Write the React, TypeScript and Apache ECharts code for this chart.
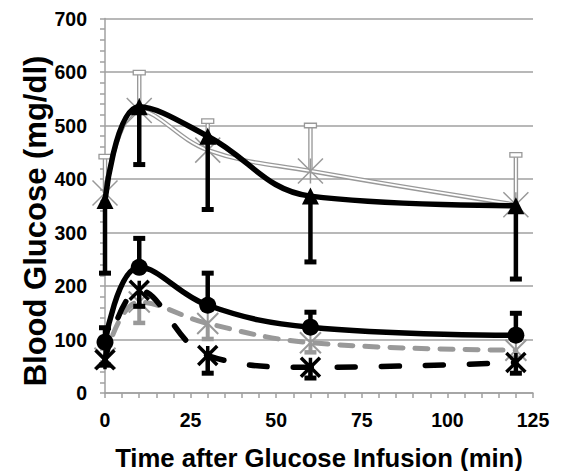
import React, { useEffect, useRef } from "react";
import * as echarts from "echarts";

// ---- data ----
const times = [0, 10, 30, 60, 120];
const xTicks = [0, 25, 50, 75, 100, 125];
const yTicks = [0, 100, 200, 300, 400, 500, 600, 700];

// high group: black triangles (solid) with downward SD, gray asterisks (double line) with upward SD
const triMean = [360, 535, 480, 368, 350];
const triSD = [136, 108, 137, 123, 137];
const grayHighMean = [374, 528, 454, 415, 352];
const grayHighSD = [68, 71, 54, 85, 93];

// low group: black circles (solid) upward SD, gray asterisks (dashed) downward SD, black asterisks (dashed) downward SD
const circMean = [95, 235, 164, 123, 108];
const circSD = [27, 54, 60, 28, 41];
const grayLowMean = [65, 170, 130, 94, 80];
const grayLowSD = [12, 39, 29, 18, 14];
const blackDashMean = [62, 192, 70, 48, 57];
const blackDashSD = [10, 30, 33, 20, 20];

const GRID = "#a0a0a0";
const GRAY = "#999999";
const FONT = "'Liberation Sans', Arial, sans-serif";
const STAR = "path://M0 0L20 20M20 0L0 20M10 0L10 20";

function pairs(means: number[]) {
  return times.map((t, i) => [t, means[i]]);
}
function bars(means: number[], sd: number[], dir: 1 | -1) {
  return times.map((t, i) => [t, means[i], means[i] + dir * sd[i]]);
}

function errorSeries(data: number[][], kind: "black" | "gray" | "grayDouble", z: number) {
  return {
    type: "custom",
    z,
    silent: true,
    data,
    encode: { x: 0, y: [1, 2] },
    renderItem: (params: any, api: any) => {
      const x = api.value(0);
      const a = api.coord([x, api.value(1)]);
      const b = api.coord([x, api.value(2)]);
      const capW = 12;
      const capH = kind === "black" ? 5 : 4.5;
      const color = kind === "black" ? "#000" : GRAY;
      const children: any[] = [];
      if (kind === "grayDouble") {
        children.push({ type: "line", shape: { x1: a[0], y1: a[1], x2: b[0], y2: b[1] }, style: { stroke: GRAY, lineWidth: 4.5 } });
        children.push({ type: "line", shape: { x1: a[0], y1: a[1], x2: b[0], y2: b[1] }, style: { stroke: "#fff", lineWidth: 1.8 } });
        children.push({ type: "rect", shape: { x: b[0] - capW / 2, y: b[1] - capH / 2, width: capW, height: capH }, style: { fill: "#fff", stroke: GRAY, lineWidth: 1.3 } });
      } else {
        children.push({ type: "line", shape: { x1: a[0], y1: a[1], x2: b[0], y2: b[1] }, style: { stroke: color, lineWidth: kind === "black" ? 4.5 : 4 } });
        children.push({ type: "rect", shape: { x: b[0] - capW / 2, y: b[1] - capH / 2, width: capW, height: capH }, style: { fill: color } });
      }
      return { type: "group", children };
    },
  };
}

export default function App() {
  const ref = useRef<HTMLDivElement>(null);
  useEffect(() => {
    if (!ref.current) return;
    const chart = echarts.init(ref.current, undefined, { renderer: "svg" });
    const option: any = {
      animation: false,
      backgroundColor: "#fff",
      grid: { left: 105, right: 28, top: 18.5, bottom: 78, containLabel: false },
      xAxis: {
        type: "value",
        min: xTicks[0],
        max: xTicks[xTicks.length - 1],
        interval: 25,
        axisLine: { show: true, lineStyle: { color: GRID, width: 1.5 } },
        axisTick: { show: true, length: 5, lineStyle: { color: GRID, width: 1.5 } },
        minorTick: { show: true, splitNumber: 5, length: 5, lineStyle: { color: GRID, width: 1.5 } },
        splitLine: { show: false },
        axisLabel: { color: "#000", fontSize: 19.5, fontWeight: "bold", fontFamily: FONT, margin: 17 },
      },
      yAxis: {
        type: "value",
        min: yTicks[0],
        max: yTicks[yTicks.length - 1],
        interval: 100,
        axisLine: { show: true, lineStyle: { color: GRID, width: 1.5 } },
        axisTick: { show: true, length: 5, lineStyle: { color: GRID, width: 1.5 } },
        minorTick: { show: true, splitNumber: 5, length: 5, lineStyle: { color: GRID, width: 1.5 } },
        splitLine: { show: true, lineStyle: { color: GRID, width: 1.5 } },
        axisLabel: { color: "#000", fontSize: 19.5, fontWeight: "bold", fontFamily: FONT, margin: 18 },
      },
      graphic: [
        {
          type: "text",
          x: 35,
          y: 221,
          rotation: Math.PI / 2,
          style: { text: "Blood Glucose (mg/dl)", fontSize: 31, fontWeight: "bold", fontFamily: FONT, fill: "#000", align: "center", verticalAlign: "middle" },
        },
        {
          type: "text",
          x: 319,
          y: 458,
          style: { text: "Time after Glucose Infusion (min)", fontSize: 25.7, fontWeight: "bold", fontFamily: FONT, fill: "#000", align: "center", verticalAlign: "middle" },
        },
      ],
      series: [
        // high gray (double line)
        errorSeries(bars(grayHighMean, grayHighSD, 1), "grayDouble", 2),
        { type: "line", z: 3, data: pairs(grayHighMean), smooth: 0.4, showSymbol: false, lineStyle: { color: GRAY, width: 4.5 } },
        { type: "line", z: 3, data: pairs(grayHighMean), smooth: 0.4, showSymbol: false, lineStyle: { color: "#fff", width: 1.8 } },
        {
          type: "line", z: 4, data: pairs(grayHighMean), smooth: 0.4, symbol: STAR, symbolSize: 25,
          lineStyle: { opacity: 0, width: 0 }, itemStyle: { color: "transparent", borderColor: GRAY, borderWidth: 1.5 },
        },
        // high black triangles
        errorSeries(bars(triMean, triSD, -1), "black", 5),
        { type: "line", z: 6, data: pairs(triMean), smooth: 0.4, symbol: "triangle", symbolSize: 17, lineStyle: { color: "#000", width: 5.5 }, itemStyle: { color: "#000" } },
        // low gray dashed
        errorSeries(bars(grayLowMean, grayLowSD, -1), "gray", 7),
        {
          type: "line", z: 8, data: pairs(grayLowMean), smooth: 0.4, symbol: STAR, symbolSize: 21,
          lineStyle: { color: GRAY, width: 5, type: [13, 12], cap: "round" }, itemStyle: { color: "transparent", borderColor: GRAY, borderWidth: 2 },
        },
        // low black dashed
        errorSeries(bars(blackDashMean, blackDashSD, -1), "black", 9),
        {
          type: "line", z: 10, data: pairs(blackDashMean), smooth: 0.4, symbol: STAR, symbolSize: 19,
          lineStyle: { color: "#000", width: 5.5, type: [18, 26], cap: "round" }, itemStyle: { color: "transparent", borderColor: "#000", borderWidth: 3.5 },
        },
        // low black circles
        errorSeries(bars(circMean, circSD, 1), "black", 11),
        { type: "line", z: 12, data: pairs(circMean), smooth: 0.4, symbol: "circle", symbolSize: 17, lineStyle: { color: "#000", width: 5.5 }, itemStyle: { color: "#000" } },
      ],
    };
    chart.setOption(option);
    return () => chart.dispose();
  }, []);
  return <div ref={ref} style={{ width: 561, height: 471, position: "absolute", left: 0, top: 0 }} />;
}
